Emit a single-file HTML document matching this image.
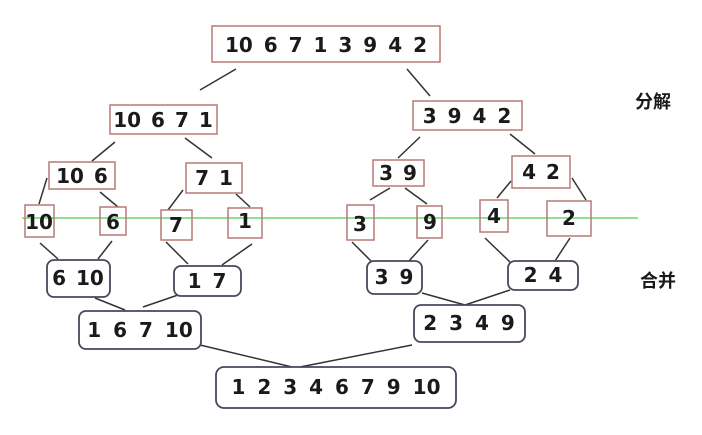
<!DOCTYPE html>
<html><head><meta charset="utf-8"><style>
html,body{margin:0;padding:0;background:#fff;width:702px;height:435px;overflow:hidden}
svg text{font-family:"DejaVu Sans","Liberation Sans",sans-serif;font-weight:bold;fill:#1a1a1a;text-anchor:middle;dominant-baseline:central}
</style></head><body>
<svg width="702" height="435" viewBox="0 0 702 435" xmlns="http://www.w3.org/2000/svg">
<g stroke="#333" stroke-width="1.5" fill="none">
<line x1="236" y1="69" x2="200" y2="90"/><line x1="407" y1="69" x2="430" y2="96"/>
<line x1="115" y1="142" x2="92" y2="161"/><line x1="185" y1="138" x2="212" y2="158"/>
<line x1="47" y1="178" x2="39" y2="204"/><line x1="100" y1="192" x2="118" y2="207"/>
<line x1="183" y1="190" x2="168" y2="210"/><line x1="236" y1="194" x2="250" y2="207"/>
<line x1="420" y1="137" x2="398" y2="158"/><line x1="510" y1="134" x2="535" y2="154"/>
<line x1="390" y1="188" x2="370" y2="200"/><line x1="405" y1="188" x2="427" y2="204"/>
<line x1="511" y1="181" x2="497" y2="198"/><line x1="572" y1="178" x2="586" y2="200"/>
<line x1="40" y1="243" x2="58" y2="259"/><line x1="112" y1="241" x2="98" y2="259"/>
<line x1="166" y1="242" x2="188" y2="264"/><line x1="252" y1="244" x2="222" y2="265"/>
<line x1="352" y1="242" x2="372" y2="262"/><line x1="428" y1="240" x2="409" y2="261"/>
<line x1="485" y1="238" x2="510" y2="262"/><line x1="570" y1="238" x2="555" y2="261"/>
<line x1="95" y1="298" x2="125" y2="310"/><line x1="178" y1="295" x2="143" y2="307"/>
<line x1="422" y1="293" x2="465" y2="305"/><line x1="510" y1="290" x2="465" y2="305"/>
<line x1="200" y1="345" x2="292" y2="367"/><line x1="412" y1="345" x2="300" y2="367"/>
</g>
<line x1="22" y1="218" x2="638" y2="218" stroke="#6fd46f" stroke-width="1.5"/>
<g stroke="#b57a78" stroke-width="1.5" fill="#fff">
<rect x="212" y="26" width="228" height="36"/>
<rect x="110" y="105" width="107" height="29"/>
<rect x="413" y="101" width="109" height="29"/>
<rect x="49" y="162" width="66" height="27"/>
<rect x="186" y="163" width="56" height="30"/>
<rect x="373" y="160" width="51" height="26"/>
<rect x="512" y="156" width="58" height="32"/>
<rect x="25" y="205" width="29" height="32" fill="none"/>
<rect x="100" y="207" width="26" height="28" fill="none"/>
<rect x="161" y="210" width="31" height="30" fill="none"/>
<rect x="228" y="208" width="34" height="30" fill="none"/>
<rect x="347" y="205" width="27" height="35" fill="none"/>
<rect x="417" y="206" width="25" height="32" fill="none"/>
<rect x="480" y="200" width="28" height="32" fill="none"/>
<rect x="547" y="201" width="44" height="35" fill="none"/>
</g>
<g stroke="#444a5a" stroke-width="1.8" fill="#fff">
<rect x="47" y="260" width="63" height="37" rx="7"/>
<rect x="174" y="266" width="67" height="30" rx="7"/>
<rect x="367" y="261" width="55" height="33" rx="7"/>
<rect x="508" y="261" width="70" height="29" rx="7"/>
<rect x="79" y="311" width="122" height="38" rx="7"/>
<rect x="414" y="305" width="111" height="37" rx="7"/>
<rect x="216" y="367" width="240" height="41" rx="8"/>
</g>
<g font-size="20">
<text x="326" y="45" word-spacing="4">10 6 7 1 3 9 4 2</text>
<text x="163" y="120" word-spacing="3">10 6 7 1</text>
<text x="467" y="116" word-spacing="4">3 9 4 2</text>
<text x="82" y="176" word-spacing="3">10 6</text>
<text x="214" y="178" word-spacing="3">7 1</text>
<text x="398" y="173" word-spacing="3">3 9</text>
<text x="541" y="172" word-spacing="3">4 2</text>
<text x="39" y="222">10</text>
<text x="113" y="222">6</text>
<text x="176" y="225">7</text>
<text x="245" y="221">1</text>
<text x="360" y="224">3</text>
<text x="430" y="222">9</text>
<text x="494" y="216">4</text>
<text x="569" y="218">2</text>
<text x="78" y="278" word-spacing="3">6 10</text>
<text x="207" y="281" word-spacing="4">1 7</text>
<text x="394" y="277" word-spacing="4">3 9</text>
<text x="543" y="275" word-spacing="4">2 4</text>
<text x="140" y="330" word-spacing="5">1 6 7 10</text>
<text x="469" y="323" word-spacing="5">2 3 4 9</text>
<text x="336" y="387" word-spacing="5">1 2 3 4 6 7 9 10</text>
</g>
<g font-size="18">
<text x="653" y="101" style="font-family:'Noto Sans CJK SC',sans-serif">分解</text>
<text x="658" y="280" style="font-family:'Noto Sans CJK SC',sans-serif">合并</text>
</g>
</svg>
</body></html>
